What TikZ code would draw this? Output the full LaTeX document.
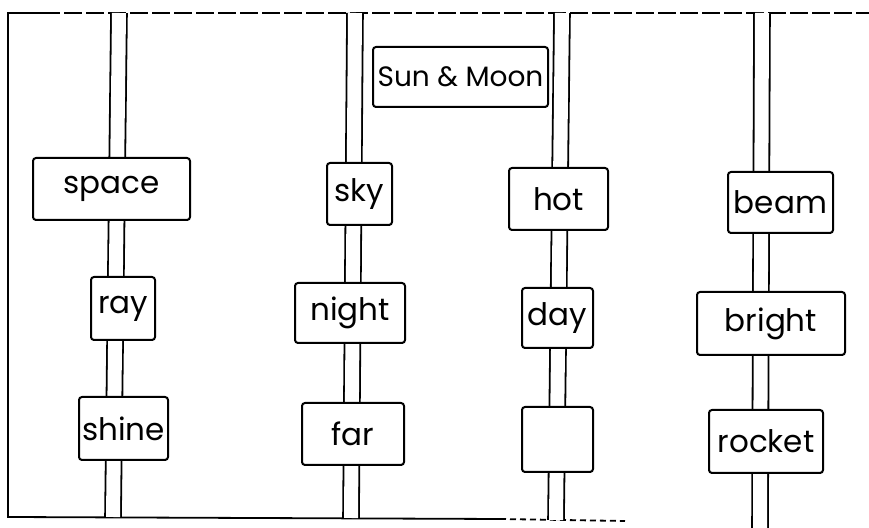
\documentclass[tikz,border=0pt]{standalone}
\usepackage{fontspec}
\newfontfamily\handfont{Poppins}
\usetikzlibrary{positioning}

\begin{document}
\begin{tikzpicture}[
                x=0.5pt, y=-0.5pt,
                line width=1pt,
                pole/.style={double distance=7pt, line width=0.9pt},
                frameline/.style={line width=0.9pt},
                word/.style={draw, fill=white, rectangle, rounded corners=1.5pt, inner sep=0pt, font=\handfont\fontsize{15.5}{18}\selectfont},
                heading/.style={word, font=\handfont\fontsize{14}{16}\selectfont}
            ]
            \useasboundingbox (0,0) rectangle (869,528);

            % Cadre
            \coordinate (tl) at (8,13);
            \coordinate (tr) at (869,13);
            \coordinate (bl) at (8,517);
            \coordinate (bm) at (500,519);
            \coordinate (br) at (625,521);
            \draw[frameline] (tr) -- (tl) -- (bl) -- (bm);
            \draw[frameline, dash pattern=on 3pt off 2pt] (bm) -- (br);
            \draw[white, line width=1.5pt, dash pattern=on 2pt off 9pt] (60,13) -- (869,13);

            % Les quatre poteaux
            \coordinate (top1) at (119,13);  \coordinate (bot1) at (113,517);
            \coordinate (top2) at (355,13);  \coordinate (bot2) at (351,518);
            \coordinate (top3) at (562,13);  \coordinate (bot3) at (556,520);
            \coordinate (top4) at (762,13);  \coordinate (bot4) at (760,528);
            \foreach \i in {1,...,4} {
                \draw[pole] (top\i) -- (bot\i);
            }

            % Titre
            \node[heading, minimum width=87.5pt, minimum height=30pt] (sunmoon) at (460.5,77) {Sun \& Moon};

            % Poteau 1
            \node[word, minimum width=78.5pt, minimum height=31pt] (space) at (111.5,189) {space};
            \node[word, minimum width=32pt, minimum height=31.5pt] (ray) at (123,308.5) {ray};
            \node[word, minimum width=44.5pt, minimum height=31.5pt] (shine) at (123.5,428.5) {shine};

            % Poteau 2
            \node[word, minimum width=32.5pt, minimum height=31pt] (sky) at (359.5,194) {sky};
            \node[word, minimum width=55pt, minimum height=30pt] (night) at (350,313) {night};
            \node[word, minimum width=51pt, minimum height=31pt] (far) at (353,434) {far};

            % Poteau 3
            \node[word, minimum width=49.5pt, minimum height=31pt] (hot) at (558.5,199) {hot};
            \node[word, minimum width=35.5pt, minimum height=30pt] (day) at (557.5,318) {day};
            \node[word, minimum width=35.5pt, minimum height=32.5pt] (blank) at (557.5,439.5) {};

            % Poteau 4
            \node[word, minimum width=52.5pt, minimum height=30.5pt] (beam) at (780.5,202.5) {beam};
            \node[word, minimum width=74pt, minimum height=31.5pt] (bright) at (771,323.5) {bright};
            \node[word, minimum width=57pt, minimum height=31.5pt] (rocket) at (766,441.5) {rocket};
        \end{tikzpicture}
\end{document}
